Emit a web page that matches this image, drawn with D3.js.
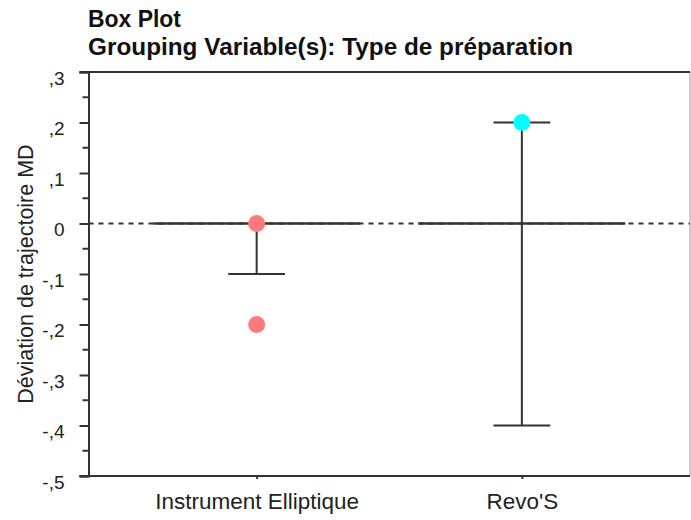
<!DOCTYPE html>
<html><head><meta charset="utf-8">
<script src="https://cdn.jsdelivr.net/npm/d3@7"></script>
<style>body{margin:0;background:#fff;} svg{display:block;}</style>
</head><body>
<svg id="chart" width="691" height="520"></svg>
<script>
const titleLines = ["Box Plot", "Grouping Variable(s): Type de préparation"];
const yTitle = "Déviation de trajectoire MD";
const categories = ["Instrument Elliptique", "Revo'S"];
const medians = [0, 0];
const whiskerLow = [-0.1, -0.4];
const whiskerHigh = [0, 0.2];
const pointsInstrument = [0, -0.2];
const pointsRevo = [0.2];
const pointColors = ["#ff7b7b", "#00ffff"];
const yTickValues = [0.3, 0.2, 0.1, 0, -0.1, -0.2, -0.3, -0.4, -0.5];
const yTickLabels = [",3", ",2", ",1", "0", "-,1", "-,2", "-,3", "-,4", "-,5"];
const yMinorValues = [0.25, 0.15, 0.05, -0.05, -0.15, -0.25, -0.35, -0.45];

const svg = d3.select("#chart");
const L = 88.5, R = 690, T = 72, B = 476;
const y = d3.scaleLinear().domain([-0.5, 0.3]).range([B, T]);
const x = d3.scalePoint().domain(categories).range([L, R]).padding(0.634);
const step = x.step();
const lineCol = "#333";
const font = "Liberation Sans, Arial, sans-serif";

// titles
const titleWidths = [93, 485];
svg.selectAll("text.title").data(titleLines).join("text")
  .attr("x", 88).attr("y", (d, i) => 27 + i * 28)
  .attr("font-family", font).attr("font-weight", "bold").attr("font-size", 23)
  .attr("textLength", (d, i) => titleWidths[i]).attr("lengthAdjust", "spacingAndGlyphs")
  .attr("fill", "#111").text(d => d);

// y title
svg.append("text")
  .attr("transform", `translate(33,${(T + B) / 2}) rotate(-90)`)
  .attr("text-anchor", "middle").attr("font-family", font).attr("font-size", 21.5)
  .attr("fill", "#222").text(yTitle);

// zero reference dashed line
svg.append("line").attr("x1", L).attr("x2", R).attr("y1", y(0)).attr("y2", y(0))
  .attr("stroke", lineCol).attr("stroke-width", 2).attr("stroke-dasharray", "5,5");

// frame
svg.append("line").attr("x1", R).attr("x2", R).attr("y1", T).attr("y2", B)
  .attr("stroke", "#999").attr("stroke-width", 1);
svg.append("line").attr("x1", L - 9).attr("x2", R).attr("y1", T).attr("y2", T)
  .attr("stroke", lineCol).attr("stroke-width", 2);
svg.append("line").attr("x1", L - 9).attr("x2", R).attr("y1", B).attr("y2", B)
  .attr("stroke", lineCol).attr("stroke-width", 2);

// y axis
const yAxis = d3.axisLeft(y).tickValues(yTickValues).tickSize(9)
  .tickFormat((d, i) => yTickLabels[i]);
const gy = svg.append("g").attr("transform", `translate(${L},0)`).call(yAxis);
gy.select(".domain").attr("stroke", lineCol).attr("stroke-width", 2);
gy.selectAll(".tick line").attr("stroke", lineCol).attr("stroke-width", 2);
gy.selectAll(".tick text").attr("font-family", font).attr("font-size", 19)
  .attr("fill", "#222").attr("x", -24).attr("dy", "0.71em").attr("y", -1.5);
gy.selectAll("line.minor").data(yMinorValues).join("line").attr("class", "minor")
  .attr("x1", -6).attr("x2", 0).attr("y1", d => y(d)).attr("y2", d => y(d))
  .attr("stroke", lineCol).attr("stroke-width", 2);

// x axis
const xAxis = d3.axisBottom(x).tickSize(3);
const gx = svg.append("g").attr("transform", `translate(0,${B})`).call(xAxis);
gx.select(".domain").remove();
gx.selectAll(".tick line").attr("stroke", lineCol).attr("stroke-width", 2);
gx.selectAll(".tick text").attr("font-family", font).attr("font-size", 22.5)
  .attr("fill", "#222").attr("y", 33).attr("dy", 0);

// box plots
const g = svg.append("g");
categories.forEach((c, i) => {
  const cx = x(c);
  g.append("line").attr("x1", cx).attr("x2", cx)
    .attr("y1", y(whiskerLow[i])).attr("y2", y(whiskerHigh[i]))
    .attr("stroke", lineCol).attr("stroke-width", 2);
  [whiskerLow[i], whiskerHigh[i]].forEach(v => {
    if (v === medians[i]) return;
    g.append("line").attr("x1", cx - step * 0.107).attr("x2", cx + step * 0.107)
      .attr("y1", y(v)).attr("y2", y(v)).attr("stroke", lineCol).attr("stroke-width", 2);
  });
  g.append("line").attr("x1", cx - step * 0.39).attr("x2", cx + step * 0.39)
    .attr("y1", y(medians[i])).attr("y2", y(medians[i]))
    .attr("stroke", lineCol).attr("stroke-width", 2.5);
});
const pts = [pointsInstrument, pointsRevo];
pts.forEach((arr, i) => {
  g.selectAll(null).data(arr).join("circle")
    .attr("cx", x(categories[i])).attr("cy", d => y(d)).attr("r", 8.5)
    .attr("fill", pointColors[i]);
});
</script>
</body></html>
